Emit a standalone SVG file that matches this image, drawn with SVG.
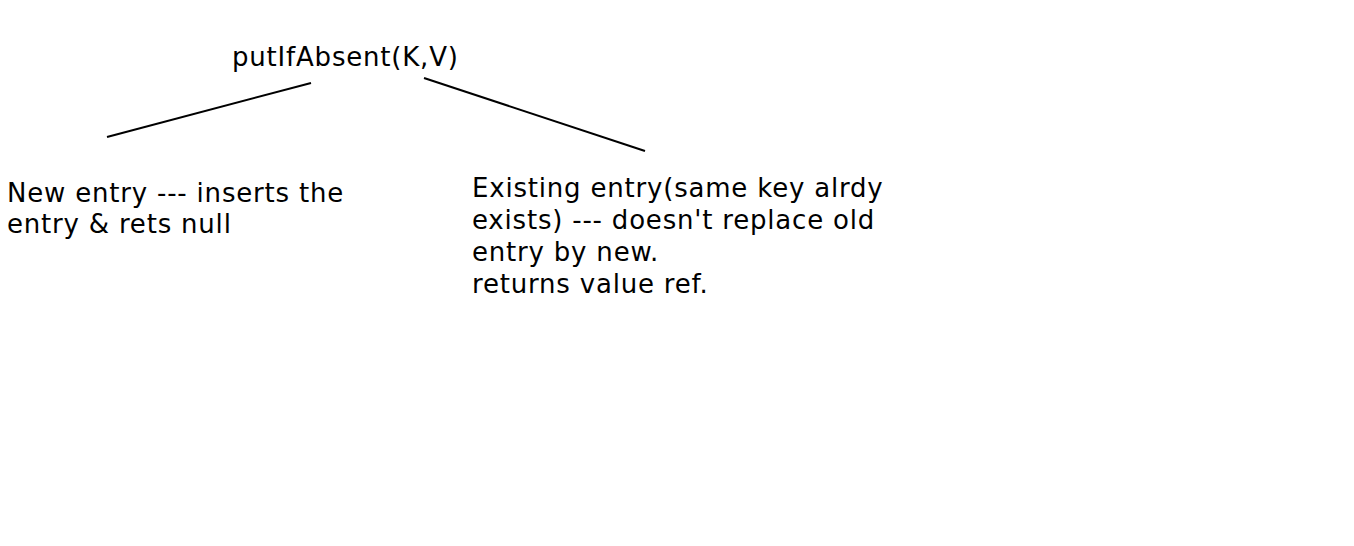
<svg xmlns="http://www.w3.org/2000/svg" width="1354" height="546" viewBox="0 0 1354 546">
<style>
text{font-family:"DejaVu Sans","Liberation Sans",sans-serif;font-size:26px;letter-spacing:0.8px;fill:#000}
.c{stroke:#000;stroke-width:2;fill:none}
</style>
<rect width="1354" height="546" fill="#fff"/>
<g id="root"><text x="232" y="66">putIfAbsent(K,V)</text></g>
<g id="connectors">
<line class="c" x1="107" y1="137" x2="311" y2="83"/>
<line class="c" x1="424" y1="78" x2="645" y2="151"/>
</g>
<g id="new-entry"><text x="7" y="202">New entry --- inserts the</text><text x="7" y="233">entry &amp; rets null</text></g>
<g id="existing-entry"><text x="472" y="197">Existing entry(same key alrdy</text><text x="472" y="229">exists) --- doesn't replace old</text><text x="472" y="261">entry by new.</text><text x="472" y="293">returns value ref.</text></g>
</svg>
